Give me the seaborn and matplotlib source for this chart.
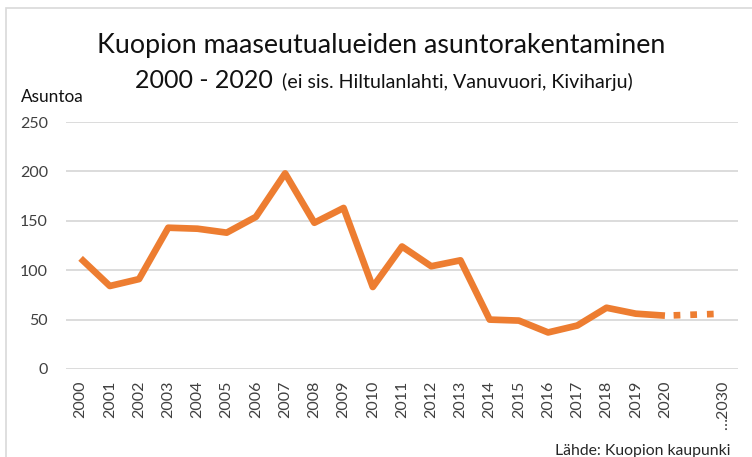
import numpy as np
import pandas as pd
import seaborn as sns
import matplotlib
matplotlib.use("Agg")
import matplotlib.pyplot as plt
from matplotlib.patches import Rectangle

# ---- data ----
years = list(range(2000, 2021))
values = [112, 84, 91, 143, 142, 138, 154, 198, 148, 163, 83,
          124, 104, 110, 50, 49, 37, 44, 62, 56, 54]
proj_years = [2020, 2030]
proj_values = [54, 56]
axis_years = years + [None, 2030]          # category slots on the x axis
tick_labels = [str(y) for y in years] + ["", "\u20262030"]
y_ticks = [0, 50, 100, 150, 200, 250]

title_line1 = "Kuopion maaseutualueiden asuntorakentaminen"
title_line2a = "2000 - 2020"
title_line2b = "(ei sis. Hiltulanlahti, Vanuvuori, Kiviharju)"
y_label = "Asuntoa"
source = "L\u00e4hde: Kuopion kaupunki"

# ---- style ----
W, H = 752, 457
sns.set_theme(style="white")
plt.rcParams["font.family"] = ["Lato", "DejaVu Sans"]
ORANGE = "#ED7D31"
GRID = "#D9D9D9"
TXT = "#404040"

pos = {y: i for i, y in enumerate(axis_years) if y is not None}
df = pd.DataFrame({"pos": [pos[y] for y in years], "value": values})
dfp = pd.DataFrame({"pos": [pos[y] for y in proj_years], "value": proj_values})

fig = plt.figure(figsize=(W / 100, H / 100), dpi=100)
ax = fig.add_axes([66 / W, 1 - 369 / H, (738 - 66) / W, (369 - 122) / H])

sns.lineplot(data=df, x="pos", y="value", ax=ax, color=ORANGE, linewidth=4.8)
sns.lineplot(data=dfp, x="pos", y="value", ax=ax, color=ORANGE, linewidth=4.8,
             linestyle=(0.7, (0.01, 2.49)))
ax.lines[0].set_solid_joinstyle("round")
ax.lines[0].set_solid_capstyle("butt")
ax.lines[1].set_dash_capstyle("projecting")

ax.set_xlim(-0.5, len(axis_years) - 0.5)
ax.set_ylim(0, 250)
ax.set_yticks(y_ticks)
ax.set_yticklabels([str(v) for v in y_ticks])
ax.set_xticks(range(len(axis_years)))
ax.set_xticklabels(tick_labels, rotation=90, va="top", ha="center")
ax.tick_params(axis="y", length=0, pad=13, labelsize=11.5, labelcolor=TXT)
ax.tick_params(axis="x", length=0, pad=8.5, labelsize=11.5, labelcolor=TXT)
ax.set_xlabel("")
ax.set_ylabel("")
ax.grid(axis="y", color=GRID, linewidth=1.3)
ax.grid(axis="x", visible=False)
ax.set_axisbelow(True)
for s in ax.spines.values():
    s.set_visible(False)

# chart-area border (only top/left visible in reference)
fig.patches.append(Rectangle((6 / W, -0.05), 1.2, 1 - 8 / H + 0.05,
                             transform=fig.transFigure, fill=False,
                             edgecolor=GRID, linewidth=1.2))

renderer = fig.canvas.get_renderer()


def fitted(x0, x1, ybase, s, size, **kw):
    t = fig.text(x0 / W, 1 - ybase / H, s, fontsize=size, ha="left",
                 va="baseline", **kw)
    bb = t.get_window_extent(renderer)
    t.set_fontsize(size * (x1 - x0) / bb.width)
    return t


fitted(97, 663, 53.3, title_line1, 17, color="#111111")
fitted(135, 273, 88.3, title_line2a, 17, color="#111111")
fitted(282, 632, 88.3, title_line2b, 13, color="#111111")
fitted(21, 84, 101.7, y_label, 11.5, color="#111111")
fitted(555, 730, 455, source, 11, color="#262626")

fig.savefig("out.png", dpi=100)
